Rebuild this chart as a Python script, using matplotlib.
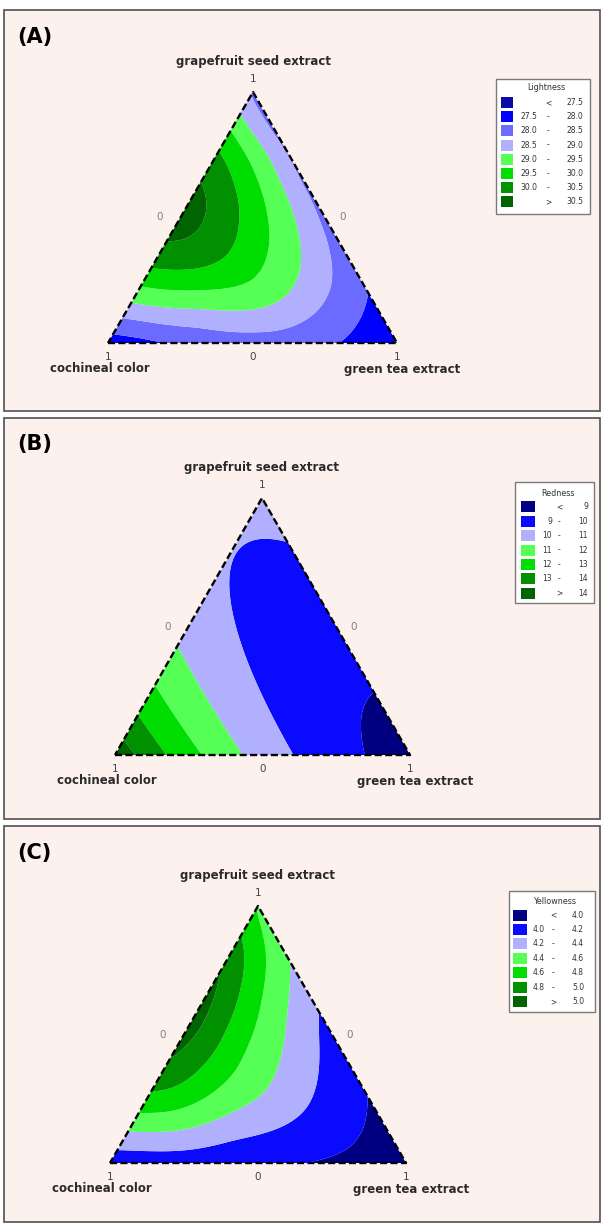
# -*- coding: utf-8 -*-
"""
Mixture contour plots (Lightness, Redness, Yellowness) for
grapefruit seed extract / cochineal color / green tea extract.
"""

import numpy as np
import matplotlib
matplotlib.use('Agg')
import matplotlib.pyplot as plt
import matplotlib.tri as mtri
from matplotlib.patches import Rectangle


# ------------ DATA -----------------------
# g = grapefruit seed extract fraction, t = green tea extract fraction,
# cochineal color = 1 - g - t.

# (A) Lightness: readings along the edges and the contour lines
lightness_g = [1, 0, 0,
               0.04, 0.10, 0.15, 0.23, 0.29, 0.40, 0.52, 0.64, 0.77, 0.85,
               0.905, 0.955,
               0.18, 0.35, 0.5, 0.65, 0.8, 0.9,
               0, 0, 0, 0, 0,
               0.03, 0.07, 0.15,
               0.053, 0.073, 0.083, 0.099, 0.231, 0.363, 0.495, 0.6275,
               0.76, 0.852, 0.95,
               0.125, 0.139, 0.14, 0.139, 0.178, 0.284, 0.429, 0.588, 0.76,
               0.852,
               0.21, 0.225, 0.235, 0.363, 0.495, 0.627, 0.76, 0.852,
               0.291, 0.337, 0.469, 0.627, 0.72,
               0.403, 0.528, 0.58, 0.5, 1/3]
lightness_t = [0, 0, 1,
               0, 0, 0, 0, 0, 0, 0, 0, 0, 0, 0, 0,
               0.82, 0.65, 0.5, 0.35, 0.2, 0.1,
               0.2, 0.35, 0.5, 0.65, 0.815,
               0.1, 0.813, 0.80,
               0.4735, 0.2815, 0.103, 0.638, 0.665, 0.587, 0.486, 0.351,
               0.221, 0.124, 0.03,
               0.4375, 0.2485, 0.1, 0.48, 0.529, 0.523, 0.456, 0.348, 0.204,
               0.054,
               0.213, 0.344, 0.39, 0.367, 0.301, 0.212, 0.1, 0.019,
               0.173, 0.242, 0.211, 0.12, 0.05,
               0.059, 0.077, 0.06, 0.03, 1/3]
lightness_v = [28.4, 27.7, 27.6,
               28.0, 28.5, 29.0, 29.5, 30.0, 30.5, 30.7, 30.5, 30.0, 29.5,
               29.0, 28.7,
               28.0, 28.2, 28.3, 28.35, 28.35, 28.4,
               28.0, 28.2, 28.25, 28.2, 28.0,
               28.0, 28.0, 28.0,
               28.5, 28.5, 28.5, 28.5, 28.5, 28.5, 28.5, 28.5, 28.5, 28.5,
               28.5,
               29.0, 29.0, 29.0, 29.0, 29.0, 29.0, 29.0, 29.0, 29.0, 29.0,
               29.5, 29.5, 29.5, 29.5, 29.5, 29.5, 29.5, 29.5,
               30.0, 30.0, 30.0, 30.0, 30.0,
               30.5, 30.5, 30.5, 30.65, 29.6]

# (B) Redness: {3,3} simplex-lattice points
redness_g = [1, 0, 0, 2/3, 1/3, 2/3, 1/3, 0, 0, 1/3]
redness_t = [0, 0, 1, 0, 0, 1/3, 2/3, 1/3, 2/3, 1/3]
redness_v = [10.3, 14.7, 8.6, 10.14, 11.55, 9.72, 9.15, 11.7, 9.7, 9.85]

# (C) Yellowness: readings along the edges and the contour lines
yellowness_g = [1, 0, 0,
                0.058, 0.117, 0.194, 0.278, 0.376, 0.57, 0.80, 0.9, 0.97,
                0.28, 0.45, 0.607, 0.79, 0.9,
                0, 0, 0, 0,
                0.5, 0.5, 0.5, 0.5, 0.5,
                0.386, 0.206, 0.101,
                0.646, 0.4786, 0.257, 0.140,
                0.84, 0.646, 0.451, 0.284, 0.192,
                0.698, 0.542, 0.386, 0.284,
                0.646, 0.5175,
                0.127, 0.036, 0.257,
                1/3]
yellowness_t = [0, 0, 1,
                0, 0, 0, 0, 0, 0, 0, 0, 0,
                0.72, 0.55, 0.393, 0.21, 0.1,
                0.15, 0.33, 0.64, 0.85,
                0.057, 0.13, 0.232, 0.34, 0.45,
                0.516, 0.561, 0.365,
                0.285, 0.358, 0.401, 0.234,
                0.109, 0.184, 0.224, 0.218, 0.096,
                0.090, 0.123, 0.111, 0.071,
                0.037, 0.034,
                0.792, 0.804, 0.739,
                1/3]
yellowness_v = [4.55, 4.05, 3.85,
                4.2, 4.4, 4.6, 4.8, 5.0, 5.1, 5.0, 4.8, 4.6,
                4.0, 4.1, 4.2, 4.4, 4.5,
                4.07, 4.06, 4.0, 3.92,
                5.0, 4.8, 4.6, 4.4, 4.2,
                4.2, 4.2, 4.2,
                4.4, 4.4, 4.4, 4.4,
                4.6, 4.6, 4.6, 4.6, 4.6,
                4.8, 4.8, 4.8, 4.8,
                5.0, 5.0,
                4.0, 4.0, 4.0,
                4.47]

lightness_cuts = [27.5, 28.0, 28.5, 29.0, 29.5, 30.0, 30.5]
redness_cuts = [9, 10, 11, 12, 13, 14]
yellowness_cuts = [4.0, 4.2, 4.4, 4.6, 4.8, 5.0]

lightness_colors = ['#0a0aa8', '#0000ff', '#6b6bff', '#b0b0ff',
                    '#55ff55', '#00dd00', '#009000', '#006400']
redness_colors = ['#000080', '#0a0aff', '#b0b0ff', '#55ff55',
                  '#00dd00', '#009000', '#006400']
yellowness_colors = ['#000080', '#0a0aff', '#b0b0ff', '#55ff55',
                     '#00dd00', '#009000', '#006400']

panel_labels = ['(A)', '(B)', '(C)']
legend_titles = ['Lightness', 'Redness', 'Yellowness']
top_name = 'grapefruit seed extract'
left_name = 'cochineal color'
right_name = 'green tea extract'


# ------------ SURFACES -----------------------

def poly_terms(g, t, deg):
    g, t = np.asarray(g, float), np.asarray(t, float)
    cols = [g**a * t**b for a in range(deg + 1) for b in range(deg + 1 - a)]
    return np.column_stack(cols)


def cubic_surface(g, t, v):
    coef, *_ = np.linalg.lstsq(poly_terms(g, t, 3), np.asarray(v, float),
                               rcond=None)
    return lambda gg, tt: poly_terms(gg, tt, 3) @ coef


def to_xy(g, t):
    g, t = np.asarray(g, float), np.asarray(t, float)
    return np.column_stack([t + g / 2, g * np.sqrt(3) / 2])


def tps_kernel(a, b):
    r = np.sqrt(((a[:, None, :] - b[None, :, :])**2).sum(-1))
    return r**2 * np.log(np.where(r > 0, r, 1.0))


def tps_surface(g, t, v, lam=3e-2):
    # smoothing thin-plate spline through the readings
    pts = to_xy(g, t)
    m = len(pts)
    K = tps_kernel(pts, pts) + lam * np.eye(m)
    P = np.column_stack([np.ones(m), pts])
    A = np.zeros((m + 3, m + 3))
    A[:m, :m] = K
    A[:m, m:] = P
    A[m:, :m] = P.T
    rhs = np.concatenate([np.asarray(v, float), np.zeros(3)])
    sol = np.linalg.solve(A, rhs)
    w, a = sol[:m], sol[m:]

    def f(gg, tt):
        q = to_xy(gg, tt)
        return tps_kernel(q, pts) @ w + a[0] + q @ a[1:]
    return f


# barycentric lattice for drawing
n = 160
ii, jj = np.meshgrid(np.arange(n + 1), np.arange(n + 1))
mask = ii + jj <= n
grid_g = ii[mask] / n
grid_t = jj[mask] / n


# ------------ FIGURE -----------------------

W, H = 602, 1224
fig = plt.figure(figsize=(W / 100, H / 100), dpi=100)
ax = fig.add_axes([0, 0, 1, 1])
ax.set_xlim(0, W)
ax.set_ylim(H, 0)
ax.axis('off')

bg = '#fdf1ed'
txt = '#2a2a2a'

# layout per panel: box, triangle apex / base, legend box and columns
panels = [
    dict(box=(4, 10, 600, 411), apex=(253, 92), base=343, bl=108, br=397,
         label_y=37, legend=(496, 79, 590, 214), row0=102.7, step=14.14,
         sw=(500.7, 513.3), lo=537, dash=548, hi=583, title_y=87),
    dict(box=(4, 418, 600, 819), apex=(262, 498), base=755, bl=115, br=410,
         label_y=444, legend=(515, 482, 594, 603), row0=506.7, step=14.45,
         sw=(520.7, 535), lo=552, dash=559, hi=588, title_y=493),
    dict(box=(4, 826, 600, 1222), apex=(258, 906), base=1163, bl=110, br=406,
         label_y=853, legend=(509, 891, 595, 1012), row0=915, step=14.45,
         sw=(512.7, 526.7), lo=545, dash=553, hi=584, title_y=902),
]

surfaces = [tps_surface(lightness_g, lightness_t, lightness_v),
            cubic_surface(redness_g, redness_t, redness_v),
            tps_surface(yellowness_g, yellowness_t, yellowness_v)]
cuts_all = [lightness_cuts, redness_cuts, yellowness_cuts]
colors_all = [lightness_colors, redness_colors, yellowness_colors]
fmts = ['{:.1f}', '{:d}', '{:.1f}']

for k, p in enumerate(panels):
    x0, y0, x1, y1 = p['box']
    ax.add_patch(Rectangle((x0, y0), x1 - x0, y1 - y0, facecolor=bg,
                           edgecolor='#505050', lw=1.2, zorder=0))

    ax_x, ax_y = p['apex']
    bl, br, base = p['bl'], p['br'], p['base']
    w = br - bl
    h = base - ax_y

    # filled contours
    z = surfaces[k](grid_g, grid_t)
    px = bl + (grid_t + grid_g / 2) * w
    py = base - grid_g * h
    tri = mtri.Triangulation(px, py)
    cuts = cuts_all[k]
    levels = [-1e9] + list(cuts) + [1e9]
    ax.tricontourf(tri, z, levels=levels, colors=colors_all[k], zorder=1,
                   antialiased=True)

    # dashed triangle outline
    ax.plot([bl, br, ax_x, bl], [base, base, ax_y, base], color='black',
            lw=1.7, ls=(0, (3, 1.4)), zorder=3, solid_capstyle='butt')

    # labels
    ax.text(17, p['label_y'], panel_labels[k], fontsize=15,
            fontweight='bold', ha='left', va='center', color='black')
    ax.text(ax_x, ax_y - 31, top_name, fontsize=8.5, fontweight='bold',
            ha='center', va='center', color=txt)
    ax.text(ax_x, ax_y - 13, '1', fontsize=7.5, ha='center', va='center',
            color='#444444')
    mid_y = (base + ax_y) / 2
    ax.text((bl + ax_x) / 2 - 21, mid_y, '0', fontsize=7.5, ha='center',
            va='center', color='#808080')
    ax.text((br + ax_x) / 2 + 18, mid_y, '0', fontsize=7.5, ha='center',
            va='center', color='#808080')
    ax.text(bl, base + 13.5, '1', fontsize=7.5, ha='center', va='center',
            color='#444444')
    ax.text((bl + br) / 2, base + 13.5, '0', fontsize=7.5, ha='center',
            va='center', color='#444444')
    ax.text(br, base + 13.5, '1', fontsize=7.5, ha='center', va='center',
            color='#444444')
    ax.text(bl - 8, base + 26, left_name, fontsize=8.5, fontweight='bold',
            ha='center', va='center', color=txt)
    ax.text(br + 5, base + 26, right_name, fontsize=8.5, fontweight='bold',
            ha='center', va='center', color=txt)

    # legend box
    lx0, ly0, lx1, ly1 = p['legend']
    ax.add_patch(Rectangle((lx0, ly0), lx1 - lx0, ly1 - ly0,
                           facecolor='white', edgecolor='#7a7a7a', lw=1.0,
                           zorder=4))
    ax.text((lx0 + lx1) / 2 + 3, p['title_y'], legend_titles[k],
            fontsize=5.8, ha='center', va='center', color='#333333', zorder=5)
    fmt = fmts[k]
    labs_lo = [''] + [fmt.format(v) for v in cuts[:-1]] + ['']
    labs_hi = [fmt.format(v) for v in cuts] + [fmt.format(cuts[-1])]
    mids = ['<'] + ['-'] * (len(cuts) - 1) + ['>']
    for r, col in enumerate(colors_all[k]):
        yy = p['row0'] + r * p['step']
        s0, s1 = p['sw']
        ax.add_patch(Rectangle((s0, yy - 5.5), s1 - s0, 11, facecolor=col,
                               edgecolor='none', zorder=5))
        ax.text(p['lo'], yy, labs_lo[r], fontsize=5.5, ha='right',
                va='center', color='#333333', zorder=5)
        ax.text(p['dash'], yy, mids[r], fontsize=5.5, ha='center',
                va='center', color='#333333', zorder=5)
        ax.text(p['hi'], yy, labs_hi[r], fontsize=5.5, ha='right',
                va='center', color='#333333', zorder=5)

fig.savefig('out.png', dpi=100, facecolor='white')
